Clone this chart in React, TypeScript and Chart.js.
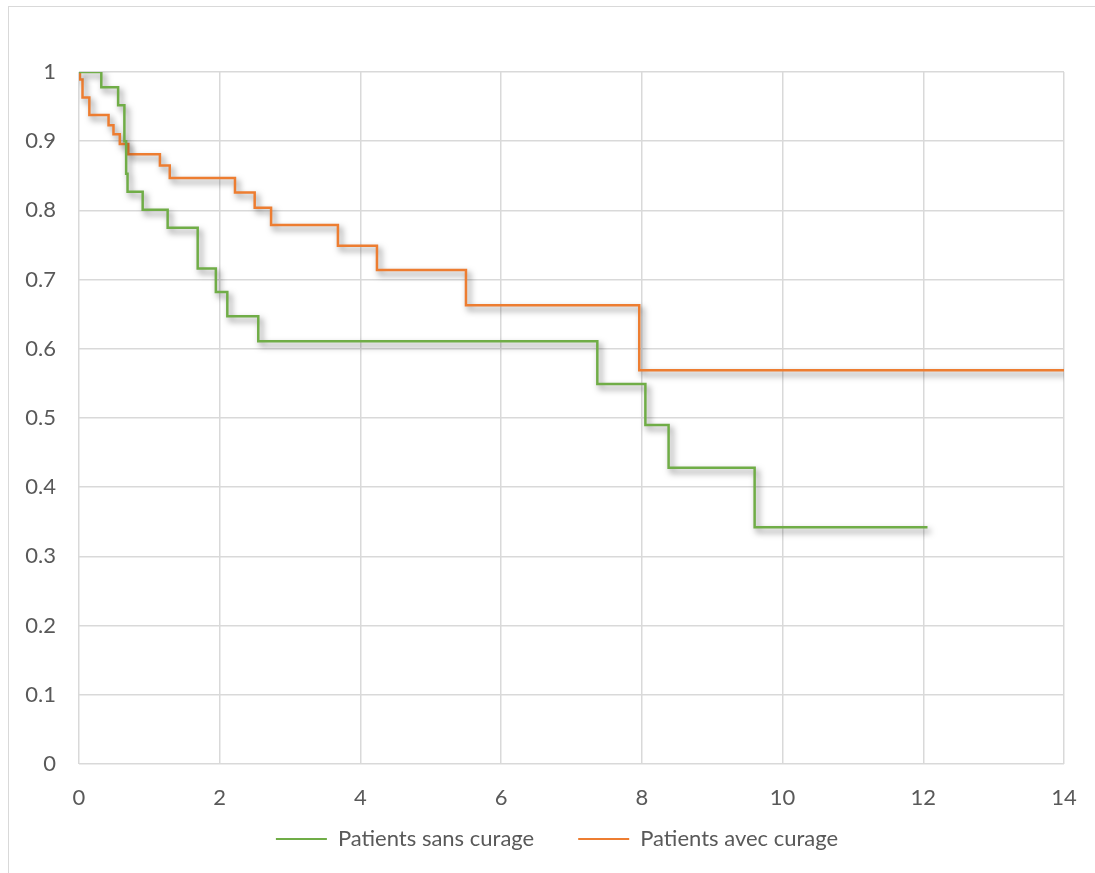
import React, { useEffect, useRef } from "react";
import { Chart, registerables } from "chart.js";

Chart.register(...registerables);

const sansTimes = [0, 0.317, 0.556, 0.645, 0.67, 0.69, 0.905, 1.26, 1.687, 1.945, 2.108, 2.548, 7.367, 8.05, 8.38, 9.603, 12.06];
const sansSurvival = [1, 0.978, 0.952, 0.9, 0.853, 0.827, 0.801, 0.775, 0.716, 0.682, 0.647, 0.611, 0.549, 0.49, 0.428, 0.342, 0.342];

const avecTimes = [0, 0.014, 0.05, 0.147, 0.42, 0.49, 0.58, 0.7, 1.15, 1.29, 2.217, 2.497, 2.73, 3.68, 4.235, 5.5, 7.963, 14];
const avecSurvival = [1, 0.989, 0.963, 0.938, 0.923, 0.91, 0.896, 0.881, 0.865, 0.847, 0.826, 0.804, 0.779, 0.749, 0.714, 0.663, 0.569, 0.569];

const seriesLabels = ["Patients sans curage", "Patients avec curage"];
const seriesColors = ["#70AD47", "#ED7D31"];

const FONT = "Lato, 'Open Sans', sans-serif";
const TEXT_COLOR = "#595959";
const GRID_COLOR = "#D9D9D9";

const shadowPlugin = {
  id: "lineShadow",
  beforeDatasetDraw(chart: any) {
    const ctx = chart.ctx;
    ctx.save();
    ctx.shadowColor = "rgba(0,0,0,0.5)";
    ctx.shadowBlur = 6;
    ctx.shadowOffsetX = 3;
    ctx.shadowOffsetY = 4;
  },
  afterDatasetDraw(chart: any) {
    chart.ctx.restore();
  },
};

const legendShiftPlugin = {
  id: "legendShift",
  afterLayout(chart: any) {
    const lg = chart.legend;
    if (lg) {
      lg.left += 25;
      lg.right += 25;
      lg.top -= 30;
      lg.bottom -= 30;
    }
  },
};

export default function App() {
  const ref = useRef<HTMLCanvasElement | null>(null);

  useEffect(() => {
    if (!ref.current) return;
    const toPoints = (xs: number[], ys: number[]) => xs.map((x, i) => ({ x, y: ys[i] }));
    const chart = new Chart(ref.current, {
      type: "scatter",
      data: {
        datasets: [
          {
            label: seriesLabels[0],
            data: toPoints(sansTimes, sansSurvival),
            showLine: true,
            stepped: "before",
            borderColor: seriesColors[0],
            backgroundColor: seriesColors[0],
            borderWidth: 2.5,
            pointRadius: 0,
            pointHoverRadius: 0,
          },
          {
            label: seriesLabels[1],
            data: toPoints(avecTimes, avecSurvival),
            showLine: true,
            stepped: "before",
            borderColor: seriesColors[1],
            backgroundColor: seriesColors[1],
            borderWidth: 2.5,
            pointRadius: 0,
            pointHoverRadius: 0,
          },
        ],
      },
      options: {
        animation: false,
        responsive: true,
        maintainAspectRatio: false,
        layout: { padding: { left: 0, top: 72, right: 31, bottom: -17 } },
        plugins: {
          tooltip: { enabled: false },
          legend: {
            position: "bottom",
            labels: {
              boxWidth: 51,
              boxHeight: 2,
              padding: 44,
              color: TEXT_COLOR,
              font: { family: FONT, size: 22 },
              generateLabels: (c: any) =>
                Chart.defaults.plugins.legend.labels.generateLabels(c).map((it: any) => ({ ...it, lineWidth: 0 })),
            },
          },
        },
        scales: {
          x: {
            type: "linear",
            min: 0,
            max: 14,
            ticks: { stepSize: 2, color: TEXT_COLOR, font: { family: FONT, size: 22 }, padding: 21, maxRotation: 0 },
            grid: { color: GRID_COLOR, lineWidth: 1.5, drawTicks: false },
            border: { display: false },
            afterFit: (s: any) => {
              s.height = 50;
              s.paddingLeft = 0;
              s.paddingRight = 0;
            },
          },
          y: {
            type: "linear",
            min: 0,
            max: 1,
            ticks: {
              stepSize: 0.1,
              color: TEXT_COLOR,
              font: { family: FONT, size: 22 },
              padding: 23,
              callback: (v: any) => String(Number(Number(v).toFixed(1))),
            },
            grid: { color: GRID_COLOR, lineWidth: 1.5, drawTicks: false },
            border: { display: false },
            afterFit: (s: any) => { s.width = 79; },
          },
        },
      },
      plugins: [shadowPlugin, legendShiftPlugin],
    });
    return () => chart.destroy();
  }, []);

  return (
    <div style={{ position: "fixed", left: 0, top: 0, width: 1095, height: 873, overflow: "hidden", background: "#fff" }}>
      <div style={{ position: "absolute", left: 8, top: 6, width: 1200, height: 1000, border: "1px solid #D9D9D9" }} />
      <div style={{ position: "absolute", left: 0, top: 0, width: 1095, height: 873 }}>
        <canvas ref={ref} />
      </div>
    </div>
  );
}
